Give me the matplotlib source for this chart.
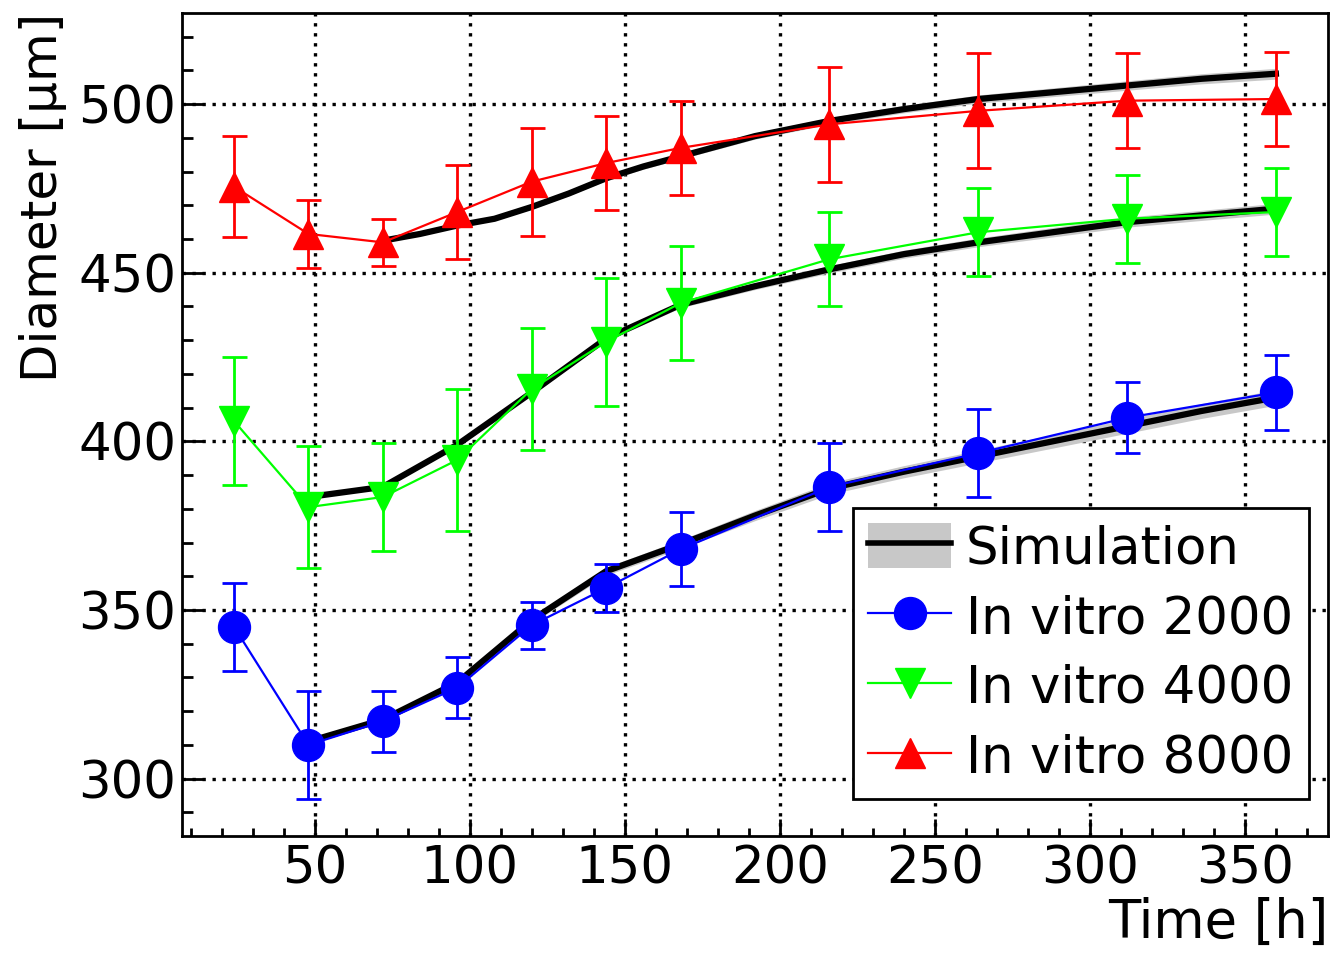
import numpy as np
import matplotlib
matplotlib.use('Agg')
import matplotlib.pyplot as plt
from matplotlib.patches import Patch
from matplotlib.lines import Line2D
from matplotlib.ticker import MultipleLocator

# measured points (in vitro)
t_vitro = [24, 48, 72, 96, 120, 144, 168, 216, 264, 312, 360]
d2000 = [345, 310, 317, 327, 345.5, 356.5, 368, 386.5, 396.5, 407, 414.5]
e2000 = [13, 16, 9, 9, 7, 7, 11, 13, 13, 10.5, 11]
d4000 = [406, 380.5, 383.5, 394.5, 415.5, 429.5, 441, 454, 462, 466, 468]
e4000 = [19, 18, 16, 21, 18, 19, 17, 14, 13, 13, 13]
d8000 = [475.5, 461.5, 459, 468, 477, 482.5, 487, 494, 498, 501, 501.5]
e8000 = [15, 10, 7, 14, 16, 14, 14, 17, 17, 14, 14]

# simulation curves
t_sim2000 = [48, 72, 96, 120, 144, 168, 192, 216, 240, 264, 288, 312, 336, 360]
sim2000 = [311, 317.5, 328.5, 347, 361.5, 369.5, 378, 386, 391, 395.5, 400, 404.5, 409, 413]
band2000 = [0.5, 0.6, 0.8, 1.0, 1.2, 1.3, 1.5, 1.7, 1.8, 1.9, 2.0, 2.1, 2.2, 2.3]
t_sim4000 = [48, 72, 96, 120, 144, 168, 192, 216, 240, 264, 288, 312, 336, 360]
sim4000 = [383.5, 386.5, 399, 414.5, 430.5, 440.5, 446, 451, 455.5, 459, 462, 465, 467, 469]
band4000 = [0.4, 0.5, 0.6, 0.7, 0.8, 0.9, 1.0, 1.1, 1.2, 1.3, 1.4, 1.5, 1.5, 1.6]
t_sim8000 = [72, 84, 96, 108, 120, 132, 144, 156, 168, 192, 216, 240, 264, 288, 312, 336, 360]
sim8000 = [459.5, 461.5, 464, 466, 469.5, 473.5, 478, 481.5, 484.5, 490.5, 495, 498.5, 501.5, 503.5, 505.5, 507.5, 509]
band8000 = [0.4, 0.4, 0.5, 0.5, 0.6, 0.6, 0.7, 0.8, 0.8, 0.9, 1.0, 1.1, 1.2, 1.3, 1.4, 1.5, 1.6]

plt.rcParams['font.family'] = ['DejaVu Sans']
fig = plt.figure(figsize=(13.36, 9.64), dpi=100)
ax = fig.add_axes([0.1362, 0.1328, 0.8578, 0.8537])

band_col = '#c8c8c8'
for t, s, b in [(t_sim2000, sim2000, band2000), (t_sim4000, sim4000, band4000), (t_sim8000, sim8000, band8000)]:
    t = np.array(t); s = np.array(s); b = np.array(b)
    ax.fill_between(t, s - b, s + b, color=band_col, lw=0, zorder=2)
    ax.plot(t, s, color='black', lw=4.5, zorder=3)

series = [(d2000, e2000, 'blue', 'o', 23, 'In vitro 2000'),
          (d4000, e4000, '#00ff00', 'v', 22, 'In vitro 4000'),
          (d8000, e8000, 'red', '^', 22, 'In vitro 8000')]
handles = [(Patch(facecolor=band_col, edgecolor='none'), Line2D([], [], color='black', lw=4))]
labels = ['Simulation']
for d, e, c, m, ms, lab in series:
    ax.errorbar(t_vitro, d, yerr=e, color=c, marker=m, ms=ms, lw=1.6,
                elinewidth=2, capsize=9, capthick=2, zorder=4)
    handles.append(Line2D([], [], color=c, marker=m, ms=ms, lw=1.6))
    labels.append(lab)

ax.set_xlim(7.2, 376.8)
ax.set_ylim(283, 527)
ax.xaxis.set_major_locator(MultipleLocator(50))
ax.xaxis.set_minor_locator(MultipleLocator(10))
ax.yaxis.set_major_locator(MultipleLocator(50))
ax.yaxis.set_minor_locator(MultipleLocator(10))
ax.tick_params(axis='both', which='both', direction='in', labelsize=37, width=2)
ax.tick_params(axis='x', which='major', length=12, pad=6)
ax.tick_params(axis='x', which='minor', length=6)
ax.tick_params(axis='y', which='major', length=16, pad=4)
ax.tick_params(axis='y', which='minor', length=8)
for sp in ax.spines.values():
    sp.set_linewidth(2)
ax.grid(True, which='major', color='black', linestyle=(0, (1, 2)), lw=2.4)
ax.set_axisbelow(True)

ax.set_xlabel('Time [h]', fontsize=38, loc='right', labelpad=2)
ax.set_ylabel('Diameter [µm]', fontsize=36, loc='top', labelpad=8)

leg = ax.legend(handles, labels, loc='upper left', bbox_to_anchor=(853 / 1336, 1 - 508 / 964),
                bbox_transform=fig.transFigure, fontsize=37, frameon=True, fancybox=False,
                edgecolor='black', framealpha=1, handlelength=1.6, handleheight=0.95,
                handletextpad=0.3, labelspacing=0.37, borderpad=0.3, borderaxespad=0)
leg.get_frame().set_linewidth(2)

fig.savefig('out.png', dpi=100)
